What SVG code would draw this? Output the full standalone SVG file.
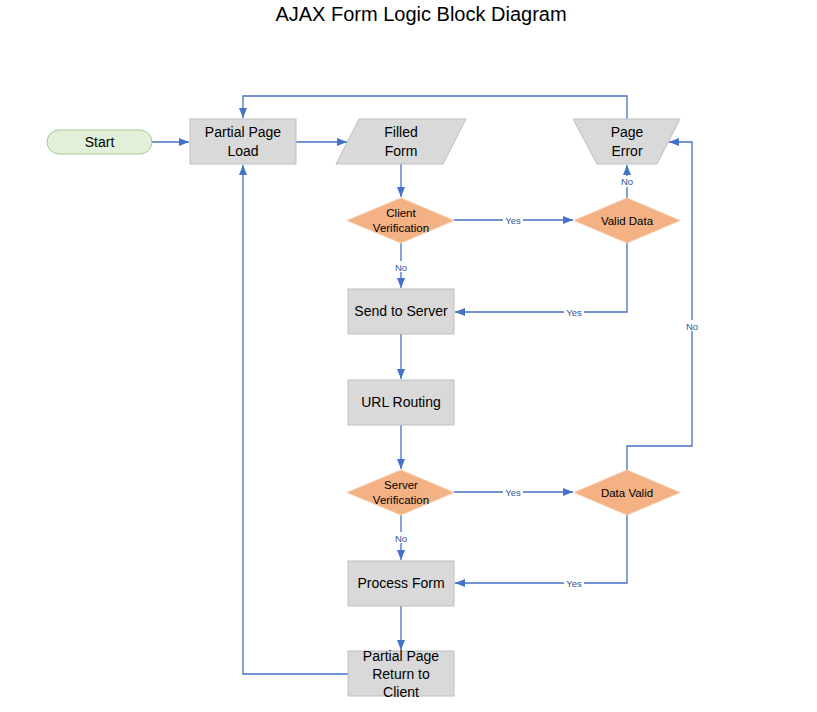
<svg xmlns="http://www.w3.org/2000/svg" width="817" height="712" viewBox="0 0 817 712">
<style>
.t{font-family:"Liberation Sans",Arial,sans-serif;fill:#000;text-anchor:middle}
.n{font-size:14px}
.d{font-size:11.5px}
.box{fill:#D9D9D9;stroke:#BFBFBF;stroke-width:1}
.dia{fill:#F4B183;stroke:#F8CBAD;stroke-width:1}
.c{fill:none;stroke:#4472C4;stroke-width:1.3}
.lb{font-family:"Liberation Sans",Arial,sans-serif;font-size:9.5px;fill:#2F5597;text-anchor:middle}
.lbg{fill:#fff}
</style>
<defs>
<marker id="ah" viewBox="0 0 10 10" refX="10" refY="5" markerWidth="10" markerHeight="10" markerUnits="userSpaceOnUse" orient="auto">
<path d="M0,1 L10,5 L0,9 Z" fill="#4472C4"/>
</marker>
</defs>
<rect width="817" height="712" fill="#fff"/>
<text class="t" x="421" y="21" style="font-size:20px">AJAX Form Logic Block Diagram</text>

<g id="connectors">
<path class="c" d="M152,142 H189" marker-end="url(#ah)"/>
<path class="c" d="M296,142 H347" marker-end="url(#ah)"/>
<path class="c" d="M627,119 V96 H243 V118" marker-end="url(#ah)"/>
<path class="c" d="M401,164 V197" marker-end="url(#ah)"/>
<path class="c" d="M454,220 H573" marker-end="url(#ah)"/>
<path class="c" d="M627,198 V165" marker-end="url(#ah)"/>
<path class="c" d="M401,243 V288" marker-end="url(#ah)"/>
<path class="c" d="M627,243 V312 H455" marker-end="url(#ah)"/>
<path class="c" d="M401,334 V379" marker-end="url(#ah)"/>
<path class="c" d="M401,425 V469" marker-end="url(#ah)"/>
<path class="c" d="M454,492 H573" marker-end="url(#ah)"/>
<path class="c" d="M627,470 V446 H692 V142 H669" marker-end="url(#ah)"/>
<path class="c" d="M401,515 V560" marker-end="url(#ah)"/>
<path class="c" d="M627,515 V583 H455" marker-end="url(#ah)"/>
<path class="c" d="M401,606 V650" marker-end="url(#ah)"/>
<path class="c" d="M348,674 H243 V165" marker-end="url(#ah)"/>
<rect class="lbg" x="503" y="214" width="20" height="11"/><text class="lb" x="513" y="223.5">Yes</text>
<rect class="lbg" x="618" y="176" width="18" height="11"/><text class="lb" x="627" y="185">No</text>
<rect class="lbg" x="392" y="261" width="18" height="11"/><text class="lb" x="401" y="270.5">No</text>
<rect class="lbg" x="564" y="306" width="20" height="11"/><text class="lb" x="574" y="315.5">Yes</text>
<rect class="lbg" x="503" y="486" width="20" height="11"/><text class="lb" x="513" y="495.5">Yes</text>
<rect class="lbg" x="683" y="320" width="18" height="11"/><text class="lb" x="692" y="329.5">No</text>
<rect class="lbg" x="392" y="532" width="18" height="11"/><text class="lb" x="401" y="541.5">No</text>
<rect class="lbg" x="564" y="577" width="20" height="11"/><text class="lb" x="574" y="586.5">Yes</text>
</g>

<g id="start">
<rect x="47" y="130" width="105" height="24" rx="12" fill="#E2F0D9" stroke="#A9C99A" stroke-width="1"/>
<text class="t n" x="99.5" y="147">Start</text>
</g>
<g id="partial-page-load">
<rect class="box" x="190" y="119" width="106" height="45"/>
<text class="t n" x="243" y="137">Partial Page</text>
<text class="t n" x="243" y="156">Load</text>
</g>
<g id="filled-form">
<polygon class="box" points="359,119 466,119 443,164 336,164"/>
<text class="t n" x="401" y="137">Filled</text>
<text class="t n" x="401" y="156">Form</text>
</g>
<g id="page-error">
<polygon class="box" points="573,119 680,119 657,164 597,164"/>
<text class="t n" x="627" y="137">Page</text>
<text class="t n" x="627" y="156">Error</text>
</g>
<g id="client-verification">
<polygon class="dia" points="401,198 454,220.5 401,243 347,220.5"/>
<text class="t d" x="401" y="217">Client</text>
<text class="t d" x="401" y="232">Verification</text>
</g>
<g id="valid-data">
<polygon class="dia" points="627,198 680,220.5 627,243 574,220.5"/>
<text class="t d" x="627" y="225">Valid Data</text>
</g>
<g id="send-to-server">
<rect class="box" x="348" y="289" width="106" height="45"/>
<text class="t n" x="401" y="316">Send to Server</text>
</g>
<g id="url-routing">
<rect class="box" x="348" y="380" width="106" height="45"/>
<text class="t n" x="401" y="407">URL Routing</text>
</g>
<g id="server-verification">
<polygon class="dia" points="401,470 454,492.5 401,515 347,492.5"/>
<text class="t d" x="401" y="489">Server</text>
<text class="t d" x="401" y="504">Verification</text>
</g>
<g id="data-valid">
<polygon class="dia" points="627,470 680,492.5 627,515 574,492.5"/>
<text class="t d" x="627" y="497">Data Valid</text>
</g>
<g id="process-form">
<rect class="box" x="348" y="561" width="106" height="45"/>
<text class="t n" x="401" y="588">Process Form</text>
</g>
<g id="partial-page-return">
<rect class="box" x="348" y="651" width="106" height="45"/>
<text class="t n" x="401" y="661">Partial Page</text>
<text class="t n" x="401" y="679">Return to</text>
<text class="t n" x="401" y="697">Client</text>
</g>
</svg>
